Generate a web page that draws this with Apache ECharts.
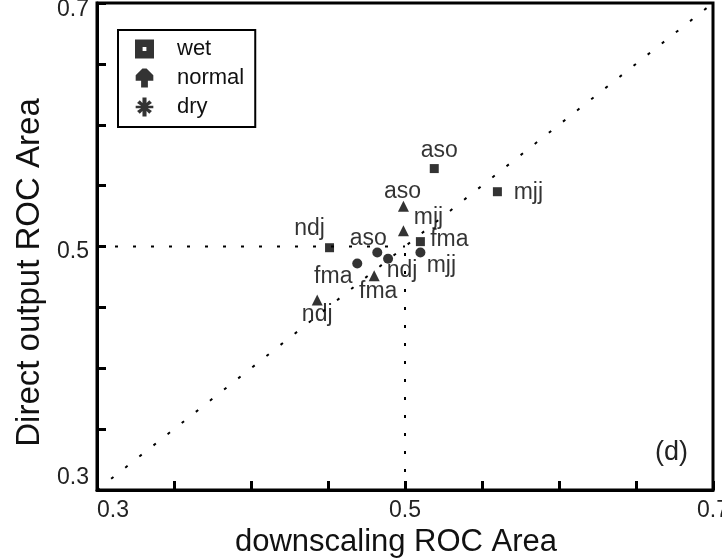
<!DOCTYPE html>
<html>
<head>
<meta charset="utf-8">
<script src="https://cdn.jsdelivr.net/npm/echarts@6/dist/echarts.min.js"></script>
<style>
  html, body { margin: 0; padding: 0; background: #fff; }
  #chart { width: 722px; height: 558px; }
</style>
</head>
<body>
<div id="chart"></div>
<script>
// seasons, same order in every series
let seasons = ['ndj', 'fma', 'mjj', 'aso']

let wetX = [0.451, 0.510, 0.560, 0.519]
let wetY = [0.499, 0.504, 0.545, 0.564]
let normalX = [0.443, 0.480, 0.499, 0.499]
let normalY = [0.456, 0.476, 0.513, 0.533]
let dryX = [0.489, 0.469, 0.510, 0.482]
let dryY = [0.490, 0.486, 0.495, 0.495]

// reference lines
let diagLine = [[0.3, 0.3], [0.7, 0.7]]
let halfH = [[0.3, 0.5], [0.5, 0.5]]
let halfV = [[0.5, 0.3], [0.5, 0.5]]

let tickLabels = [0.3, 0.5, 0.7]

// label offsets (px) for each point, by season order
let wetOff = [[-20, -19], [29, -2], [31, 1], [5, -18]]
let normalOff = [[0, 15], [4, 16], [25, -13], [-1, -15]]
let dryOff = [[14, 12], [-24, 13], [21, 13], [-9, -14]]

let font = "'Liberation Sans', Arial, sans-serif"

function pts(xs, ys, offs) {
    return xs.map(function (x, i) {
        return { value: [x, ys[i]], name: seasons[i], label: { offset: offs[i] } }
    })
}

function isTick(v) {
    return tickLabels.some(function (t) { return Math.abs(t - v) < 1e-6 })
}

let dotted = { color: '#000', width: 2, type: [3, 15] }

function refLine(d) {
    return {
        type: 'line', data: d, symbol: 'none', silent: true,
        lineStyle: dotted, z: 1
    }
}

function scatter(name, d, sym, size) {
    return {
        name: name, type: 'scatter', data: d, symbol: sym, symbolSize: size,
        itemStyle: { color: '#000' },
        label: { show: true, position: 'inside', formatter: '{b}', color: '#000', fontSize: 23, fontFamily: font },
        z: 3
    }
}

let chart = echarts.init(document.getElementById('chart'))
let option = {
    animation: false,
    backgroundColor: '#fff',
    textStyle: { fontFamily: font },
    grid: { left: 97, top: 3, width: 616, height: 487, show: true, borderColor: '#000', borderWidth: 3, containLabel: false, outerBoundsMode: 'none' },
    legend: {
        orient: 'vertical', left: 118, top: 30,
        data: [
            { name: 'wet', icon: 'path://M0,0 L10,0 L10,10 L0,10 Z M4,4 L4,6 L6,6 L6,4 Z' },
            { name: 'normal', icon: 'path://M5,0 L8,0 L13,5 L13,9 L9,9 L9,14 L4,14 L4,9 L0,9 L0,5 Z' },
            { name: 'dry', icon: 'path://M5,0 H8 V4 L10,2 L12,4 L9,6 H13 V8 H9 L12,10 L10,12 L8,10 V14 H5 V10 L3,12 L1,10 L4,8 H0 V6 H4 L1,4 L3,2 L5,4 Z' }
        ],
        itemWidth: 19, itemHeight: 19, itemGap: 7,
        padding: [8, 11, 9, 17],
        borderColor: '#000', borderWidth: 2,
        formatter: '{t|{name}}',
        textStyle: {
            fontSize: 22, lineHeight: 22, color: '#111', fontFamily: font,
            rich: { t: { fontSize: 22, lineHeight: 22, color: '#111', padding: [0, 0, 0, 18] } }
        }
    },
    xAxis: {
        type: 'value', min: 0.3, max: 0.7, interval: 0.05,
        name: 'downscaling ROC Area', nameLocation: 'middle', nameGap: 29,
        nameTextStyle: { fontSize: 31, color: '#111', fontFamily: font, padding: [0, 18, 0, 0] },
        axisLine: { show: true, lineStyle: { color: '#000', width: 3 } },
        axisTick: { show: true, inside: true, length: 9, lineStyle: { color: '#000', width: 3 } },
        axisLabel: {
            margin: 9, fontSize: 23, color: '#222', showMinLabel: true, showMaxLabel: true,
            alignMinLabel: 'left',
            formatter: function (v) { return isTick(v) ? v.toFixed(1) : '' }
        },
        splitLine: { show: false }
    },
    yAxis: {
        type: 'value', min: 0.3, max: 0.7, interval: 0.05,
        name: 'Direct output ROC Area', nameLocation: 'middle', nameGap: 48,
        nameTextStyle: { fontSize: 33, color: '#111', fontFamily: font, padding: [0, 52, 0, 0] },
        axisLine: { show: true, lineStyle: { color: '#000', width: 3 } },
        axisTick: { show: true, inside: true, length: 9, lineStyle: { color: '#000', width: 3 } },
        axisLabel: {
            margin: 8, fontSize: 23, color: '#222', showMinLabel: true, showMaxLabel: true,
            formatter: function (v) {
                if (Math.abs(v - 0.3) < 1e-6) return '{lo|0.3}'
                if (Math.abs(v - 0.7) < 1e-6) return '{hi|0.7}'
                if (Math.abs(v - 0.5) < 1e-6) return '{mid|0.5}'
                return ''
            },
            rich: {
                lo: { fontSize: 23, color: '#222', padding: [0, 0, 24, 0] },
                hi: { fontSize: 23, color: '#222', padding: [14, 0, 0, 0] },
                mid: { fontSize: 23, color: '#222', padding: [10, 0, 0, 0] }
            }
        },
        splitLine: { show: false }
    },
    graphic: [{
        type: 'text', left: 655, top: 439,
        style: { text: '(d)', fontSize: 27, fill: '#222', fontFamily: font }
    }],
    series: [
        refLine(diagLine),
        refLine(halfH),
        refLine(halfV),
        scatter('wet', pts(wetX, wetY, wetOff), 'rect', 9),
        scatter('normal', pts(normalX, normalY, normalOff), 'triangle', 11),
        scatter('dry', pts(dryX, dryY, dryOff), 'circle', 10)
    ]
}
chart.setOption(option)
</script>
</body>
</html>
